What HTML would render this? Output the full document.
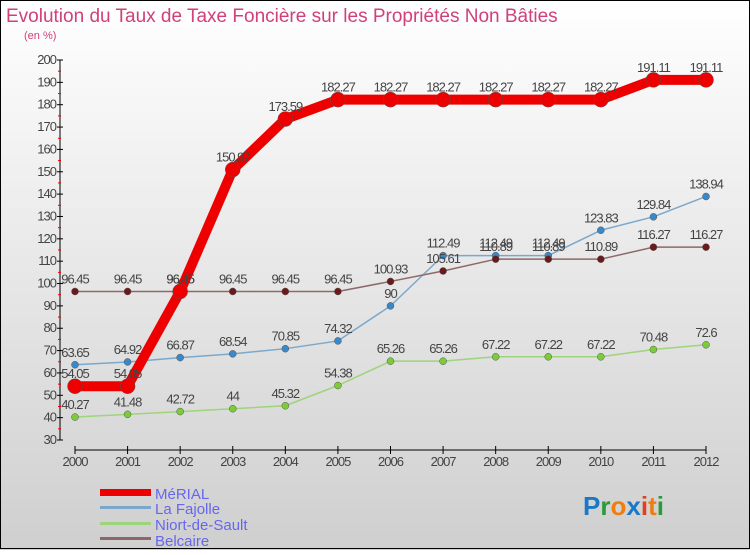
<!DOCTYPE html>
<html><head><meta charset="utf-8"><style>
body{margin:0;width:750px;height:550px;overflow:hidden;font-family:"Liberation Sans",sans-serif}
</style></head><body>
<svg id="c" width="750" height="550" xmlns="http://www.w3.org/2000/svg">
<defs><linearGradient id="bg" x1="0" y1="0" x2="0" y2="1"><stop offset="0" stop-color="#ffffff"/><stop offset="1" stop-color="#cfcfcf"/></linearGradient></defs>
<rect x="0" y="0" width="750" height="550" fill="url(#bg)"/>
<rect x="0.5" y="0.5" width="749" height="548" fill="none" stroke="#000"/>
<text x="6" y="22" font-size="19" fill="#d0407a">Evolution du Taux de Taxe Foncière sur les Propriétés Non Bâties</text>
<text x="24" y="39" font-size="11" fill="#d0407a">(en %)</text>
<g id="axes"></g><g id="series"></g>
<g>
<rect x="100" y="489" width="51" height="7" fill="#e00"/>
<text x="155" y="499" font-size="15" fill="#6666ee">MéRIAL</text>
<rect x="100" y="506" width="51" height="3" fill="#7aa8cc"/>
<text x="155" y="514" font-size="15" fill="#6666ee">La Fajolle</text>
<rect x="100" y="522" width="51" height="3" fill="#9ed47a"/>
<text x="155" y="530" font-size="15" fill="#6666ee">Niort-de-Sault</text>
<rect x="100" y="537" width="51" height="3" fill="#8e6868"/>
<text x="155" y="546" font-size="15" fill="#6666ee">Belcaire</text>
</g>
<text x="583" y="515" font-size="26" font-weight="bold"><tspan fill="#1a78c8">P</tspan><tspan fill="#2a9a3a">r</tspan><tspan fill="#f07d10">o</tspan><tspan fill="#1a78c8">x</tspan><tspan fill="#e04020">i</tspan><tspan fill="#f07d10">t</tspan><tspan fill="#2a9a3a">i</tspan></text>
</svg>
<script>
const years=[2000,2001,2002,2003,2004,2005,2006,2007,2008,2009,2010,2011,2012];
const merial=[54.05,54.05,96.45,150.97,173.59,182.27,182.27,182.27,182.27,182.27,182.27,191.11,191.11];
const fajolle=[63.65,64.92,66.87,68.54,70.85,74.32,90,112.49,112.49,112.49,123.83,129.84,138.94];
const niort=[40.27,41.48,42.72,44,45.32,54.38,65.26,65.26,67.22,67.22,67.22,70.48,72.6];
const belcaire=[96.45,96.45,96.45,96.45,96.45,96.45,100.93,105.61,110.89,110.89,110.89,116.27,116.27];
const merialLabels=["54.05","54.05","96.45","150.97","173.59","182.27","182.27","182.27","182.27","182.27","182.27","191.11","191.11"];
const fajLabels=["63.65","64.92","66.87","68.54","70.85","74.32","90","112.49","112.49","112.49","123.83","129.84","138.94"];
const niortLabels=["40.27","41.48","42.72","44","45.32","54.38","65.26","65.26","67.22","67.22","67.22","70.48","72.6"];
const belLabels=["96.45","96.45","96.45","96.45","96.45","96.45","100.93","105.61","110.89","110.89","110.89","116.27","116.27"];
const yTicks=[30,40,50,60,70,80,90,100,110,120,130,140,150,160,170,180,190,200];
const NS="http://www.w3.org/2000/svg";
const x=i=>75+i*(706-75)/12;
const y=v=>440-(v-30)*(380/170);
function el(t,a,p){const e=document.createElementNS(NS,t);for(const k in a)e.setAttribute(k,a[k]);p.appendChild(e);return e;}
const ax=document.getElementById('axes');
const yl=el('line',{x1:60,y1:60,x2:60,y2:440,stroke:'#000'},ax);


yTicks.forEach(v=>{
 el('line',{x1:57,y1:y(v),x2:63,y2:y(v),stroke:'#000'},ax);
 if(v<200)el('line',{x1:58,y1:y(v+5),x2:61,y2:y(v+5),stroke:'#e00'},ax);
 const t=el('text',{x:56,y:y(v)+4,'font-size':13,'text-anchor':'end',fill:'#444','letter-spacing':'-1'},ax);
 t.textContent=v;
 
 
});
const xl=el('line',{x1:75,y1:450,x2:706,y2:450,stroke:'#000'},ax);


years.forEach((yr,i)=>{
 el('line',{x1:x(i),y1:446,x2:x(i),y2:454,stroke:'#000'},ax);
 const t=el('text',{x:x(i),y:466,'font-size':13,'text-anchor':'middle',fill:'#444','letter-spacing':'-1'},ax);
 t.textContent=yr;
 
 
});
const sg=document.getElementById('series');
function series(name,vals,labels,line,dot,lw,r){
 const g=el('g',{},sg);
 
 
 const p=el('polyline',{points:vals.map((v,i)=>x(i)+','+y(v)).join(' '),fill:'none',stroke:line,'stroke-width':lw,'stroke-linejoin':'round'},g);
 
 
 vals.forEach((v,i)=>{
  const c=el('circle',{cx:x(i),cy:y(v),r:r,fill:dot,stroke:'#555','stroke-width':0.5},g);
  
  
  const t=el('text',{x:x(i),y:y(v)-8,'font-size':13,'text-anchor':'middle',fill:'#444','letter-spacing':'-1'},g);
  t.textContent=labels[i];
  
  
 });
}
series('niort-de-sault',niort,niortLabels,'#9ed47a','#7ccc3a',1.5,3.5);
series('la-fajolle',fajolle,fajLabels,'#7aa8cc','#3a88c8',1.5,3.5);
series('belcaire',belcaire,belLabels,'#8e6868','#6a1a1a',1.5,3.5);
series('merial',merial,merialLabels,'#ee0000','#ee0000',10,7.5);
</script>
</body></html>
